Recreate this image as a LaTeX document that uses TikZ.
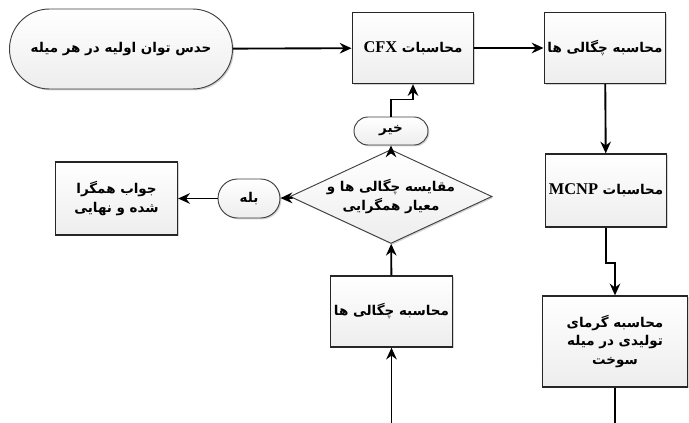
\documentclass[tikz,border=0pt]{standalone}
\usepackage{fontspec}
\setmainfont{Liberation Serif}
\newfontfamily\fa[Script=Arabic]{DejaVu Sans}
\TeXXeTstate=1
\usetikzlibrary{shapes.geometric, shapes.misc, arrows.meta, positioning, calc, shadows}
\tikzset{
    boxfill/.style={top color=white, bottom color=gray!14, drop shadow={opacity=0.35, shadow xshift=1.2pt, shadow yshift=-1.2pt}},
    startstop/.style={rounded rectangle, draw=black!75, line width=0.8pt, boxfill, align=center, inner sep=0pt},
    process/.style={rectangle, draw=black!85, line width=1.1pt, boxfill, align=center, minimum width=3.65cm, minimum height=2.13cm, inner sep=2pt},
    decision/.style={diamond, draw=black!75, line width=0.8pt, boxfill, align=center, aspect=2.15, inner sep=0pt, minimum width=4.98cm, minimum height=2.31cm},
    arrow/.style={line width=1.6pt,->,>={Stealth[length=10pt,width=9pt]}},
    line/.style={line width=1.6pt}
}
\newcommand{\fatext}{\fa\bfseries\fontsize{11.5}{16}\selectfont}
\newcommand{\latin}[1]{\beginL{\rmfamily\bfseries\fontsize{14}{16}\selectfont #1}\endL}

\begin{document}
\begin{tikzpicture}[x=0.03cm, y=-0.03cm, font=\fatext]
    \useasboundingbox (0,0) rectangle (689,423);
    \node (start) [startstop, minimum width=6.69cm, minimum height=2.4cm] at (121,49) {\beginR حدس توان اولیه در هر میله\endR};
    \node (cfx) [process] at (413,48) {\beginR محاسبات \latin{CFX}\endR};
    \node (dens1) [process] at (605,48) {\beginR محاسبه چگالی ها\endR};
    \node (mcnp) [process, minimum height=2.19cm] at (606,190.5) {\beginR محاسبات \latin{MCNP}\endR};
    \node (heat) [process, minimum width=4.35cm, minimum height=2.73cm] at (615,341.5) {\beginR محاسبه گرمای\endR\\ \beginR تولیدی در میله\endR\\ \beginR سوخت\endR};
    \node (dens2) [process] at (391.5,311.5) {\beginR محاسبه چگالی ها\endR};
    \node (check) [decision] at (391,196.5) {\beginR مقایسه چگالی ها و\endR\\ \beginR معیار همگرایی\endR};
    \node (no) [startstop, minimum width=2.22cm, minimum height=0.84cm] at (391,131) {\beginR خیر\endR};
    \node (yes) [startstop, minimum width=1.86cm, minimum height=1.17cm] at (249,198.5) {\beginR بله\endR};
    \node (final) [process, minimum height=2.19cm, line width=1.4pt] at (116.5,198.5) {\beginR جواب همگرا\endR\\ \beginR شده و نهایی\endR};
    \coordinate (bot1) at (heat.south |- 0,423);
    \coordinate (bot2) at (dens2.south |- 0,423);

    \draw [arrow] (start) -- (cfx);
    \draw [arrow] (cfx) -- (dens1);
    \draw [arrow] (dens1) -- (mcnp);
    \draw [arrow] (mcnp.south) -- ++(0,35) -| (heat.north);
    \draw [line] (heat.south) -- (bot1);
    \draw [arrow] (bot2) -- (dens2.south);
    \draw [arrow] (dens2) -- (check);
    \draw [arrow] (check) -- (no);
    \draw [arrow] (no.north) -- ++(0,-17) -| (cfx.south);
    \draw [arrow] (check) -- (yes);
    \draw [arrow] (yes) -- (final);
\end{tikzpicture}
\end{document}
